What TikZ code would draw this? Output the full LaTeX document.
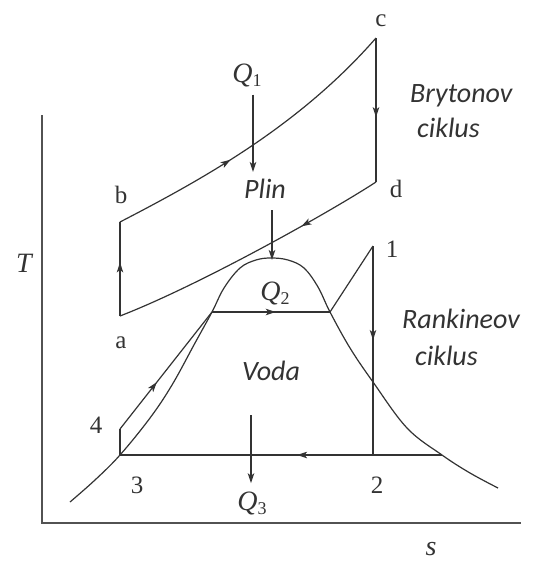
\documentclass[tikz,border=0pt]{standalone}
\usepackage{fontspec}
\setmainfont{Liberation Serif}
\newfontfamily\notesans{Carlito}
\usetikzlibrary{arrows.meta,decorations.markings}
\definecolor{ink}{gray}{0.2}
\tikzset{
  cyc/.style={ink, line width=1.2pt},
  flow/.style={postaction={decorate}, decoration={markings,
    mark=at position #1 with {\arrow{Stealth[length=10pt,width=6.5pt,inset=2.5pt]}}}},
  heat/.style={ink, line width=1.2pt, -{Stealth[length=10pt,width=6.5pt,inset=2.5pt]}},
  statelab/.style={font=\fontsize{25}{25}\selectfont, text=ink, inner sep=0pt, anchor=base},
  qlab/.style={font=\fontsize{28}{28}\selectfont\itshape, text=ink, inner sep=0pt, anchor=base},
  notelab/.style={font=\fontsize{28}{28}\selectfont\notesans\itshape, text=ink, inner sep=0pt},
}
\newcommand\heatq[1]{Q\raisebox{-0.35ex}{\fontsize{18}{18}\selectfont\upshape #1}}

\begin{document}
\begin{tikzpicture}[x=1pt,y=-1pt]
  \useasboundingbox (0,0) rectangle (534,562);

  \coordinate (a) at (120,316);
  \coordinate (b) at (120,222);
  \coordinate (c) at (376,38);
  \coordinate (d) at (376,182);
  \coordinate (p1) at (373,246);
  \coordinate (p2) at (373,455);
  \coordinate (p3) at (120,455);
  \coordinate (p4) at (120,429);
  \coordinate (sl) at (212,312);
  \coordinate (sr) at (330,312);
  \coordinate (sb) at (442,455);
  \coordinate (top) at (272,260);

  \draw[ink!85, line width=1.4pt] (42,115) -- (42,523) -- (521,523);
  \node[qlab] (T) at (24,272) {T};
  \node[qlab] (s) at (431,555) {s};

  \draw[cyc, flow=0.57] (a) -- (b);
  \draw[cyc, flow=0.4] (b) .. controls (205,178) and (300,125) .. (c);
  \draw[cyc, flow=0.55] (c) -- (d);
  \draw[cyc, flow=0.3] (d) .. controls (330,212) and (200,285) .. (a);

  \draw[cyc] plot[smooth, tension=0.6] coordinates {(70,502) (95,480) (120,455) (150,418)
    (172,385) (195,343) (212,312) (224,288) (240,268) (256,260) (271,258) (288,260)
    (304,268) (318,287) (330,312) (350,348) (373,382) (407,428) (442,455) (470,473) (498,488)};

  \draw[cyc] (p3) -- (p4);
  \draw[cyc, flow=0.4] (p4) -- (sl);
  \draw[cyc, flow=0.54] (sl) -- (sr);
  \draw[cyc] (sr) -- (p1);
  \draw[cyc, flow=0.45] (p1) -- (p2);
  \draw[cyc, flow=0.45] (sb) -- (p3);

  \node[statelab] (la) at (121,348) {a};
  \node[statelab] (lb) at (121,203) {b};
  \node[statelab] (lc) at (381,27) {c};
  \node[statelab] (ld) at (396,197) {d};
  \node[statelab] (l1) at (392,257) {1};
  \node[statelab] (l2) at (377,493) {2};
  \node[statelab] (l3) at (137,493) {3};
  \node[statelab] (l4) at (96,433) {4};

  \node[qlab] (q1) at (247,82) {\heatq{1}};
  \coordinate (q1e) at (253,172);
  \draw[heat] ([yshift=-8pt]q1.south -| q1e) -- (q1e);

  \node[notelab, anchor=base] (plin) at (265,198) {Plin};
  \draw[heat] ([yshift=-12pt]plin.base -| top) -- (top);
  \node[qlab] (q2) at (275,300) {\heatq{2}};

  \node[qlab] (q3) at (252,510) {\heatq{3}};
  \coordinate (q3s) at (251,415);
  \draw[heat] (q3s) -- ([yshift=8pt]q3.north -| q3s);

  \node[notelab, anchor=base] (voda) at (271,380) {Voda};
  \node[notelab, anchor=base west] (bry1) at (410,102) {Brytonov};
  \node[notelab, anchor=base west] (bry2) at (417,137) {ciklus};
  \node[notelab, anchor=base west] (ran1) at (402,328) {Rankineov};
  \node[notelab, anchor=base west] (ran2) at (415,365) {ciklus};
\end{tikzpicture}
\end{document}
